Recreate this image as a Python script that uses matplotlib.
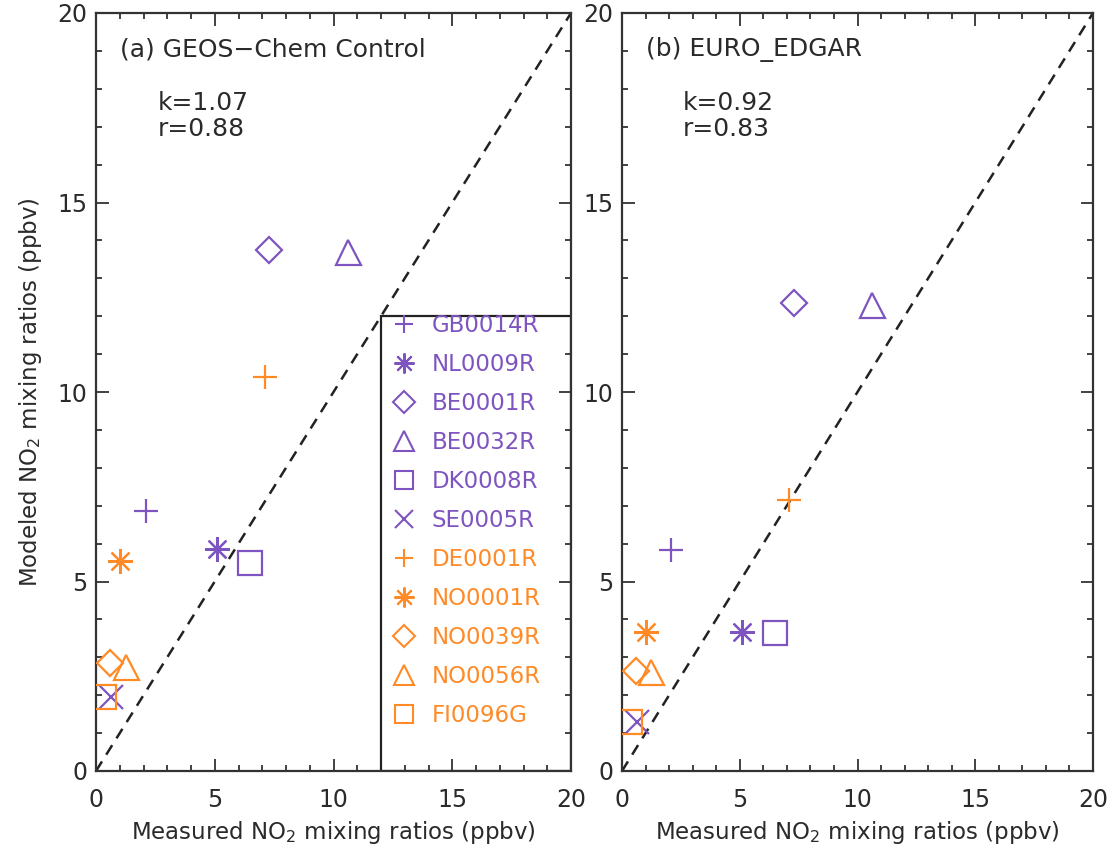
import matplotlib
matplotlib.use("Agg")
import matplotlib.pyplot as plt
from matplotlib.lines import Line2D
from matplotlib.patches import Rectangle
from matplotlib.ticker import MultipleLocator

# ---- data ----
sites = ['GB0014R', 'NL0009R', 'BE0001R', 'BE0032R', 'DK0008R', 'SE0005R',
         'DE0001R', 'NO0001R', 'NO0039R', 'NO0056R', 'FI0096G']
measured = [2.1, 5.1, 7.3, 10.6, 6.5, 0.65, 7.1, 1.0, 0.6, 1.25, 0.35]
model_control = [6.85, 5.85, 13.75, 13.7, 5.5, 1.95, 10.4, 5.55, 2.85, 2.75, 1.95]
model_euro = [5.83, 3.68, 12.35, 12.3, 3.65, 1.3, 7.15, 3.68, 2.65, 2.6, 1.3]
panel_titles = ['(a) GEOS\u2212Chem Control', '(b) EURO_EDGAR']
panel_stats = ['k=1.07\nr=0.88', 'k=0.92\nr=0.83']

PURPLE = '#7E55C0'
ORANGE = '#FF8A26'
colors = [PURPLE] * 6 + [ORANGE] * 5
ASTER = (8, 2, 0)
markers = ['+', ASTER, 'D', '^', 's', 'x', '+', ASTER, 'D', '^', 's']
msize = {'+': 17, 'D': 13.5, '^': 18, 's': 17, 'x': 17}

def ms_of(m):
    return 18 if isinstance(m, tuple) else msize[m]

plt.rcParams['font.family'] = ['DejaVu Sans']
fig = plt.figure(figsize=(11.12, 8.5), dpi=100)
W, H = 1112, 850
axa = fig.add_axes([96 / W, (850 - 771) / H, 475 / W, 758 / H])
axb = fig.add_axes([622 / W, (850 - 771) / H, 471 / W, 758 / H])

TXT = '#2a2a2a'
for ax, model, title, stats in zip([axa, axb], [model_control, model_euro],
                                   panel_titles, panel_stats):
    ax.set_xlim(0, 20)
    ax.set_ylim(0, 20)
    ax.plot([0, 20], [0, 20], ls=(0, (4.5, 3.2)), color='#222222', lw=1.8, zorder=1)
    for x, y, c, m in zip(measured, model, colors, markers):
        ax.plot([x], [y], ls='none', marker=m, ms=ms_of(m), mfc='none',
                mec=c, mew=1.6, zorder=3)
    ax.xaxis.set_major_locator(MultipleLocator(5))
    ax.yaxis.set_major_locator(MultipleLocator(5))
    ax.xaxis.set_minor_locator(MultipleLocator(1))
    ax.yaxis.set_minor_locator(MultipleLocator(1))
    ax.tick_params(which='both', direction='in', top=True, right=True,
                   colors='#333333', labelcolor=TXT, width=1.3)
    ax.tick_params(which='major', length=9, labelsize=17)
    ax.tick_params(which='minor', length=4.5)
    ax.tick_params(axis='x', pad=12)
    ax.tick_params(axis='y', pad=6)
    for s in ax.spines.values():
        s.set_linewidth(1.6)
        s.set_color('#333333')
    ax.text(1.0, 19.05, title, fontsize=18, color=TXT, va='center', ha='left')
    ax.text(2.6, 17.28, stats, fontsize=18, color=TXT, va='center', ha='left',
            linespacing=1.12)
    ax.set_xlabel('Measured NO$_2$ mixing ratios (ppbv)', fontsize=16.5, color=TXT,
                  labelpad=5)

axa.set_ylabel('Modeled NO$_2$ mixing ratios (ppbv)', fontsize=16.5, color=TXT,
               labelpad=10)

# legend box in panel (a)
axa.add_patch(Rectangle((12, 0), 8, 12, fill=False, ec='#222222', lw=1.6, zorder=2))
handles = [Line2D([], [], ls='none', marker=m, ms=ms_of(m) * 0.8, mfc='none',
                  mec=c, mew=1.5) for m, c in zip(markers, colors)]
leg = axa.legend(handles, sites, loc='upper left',
                 bbox_to_anchor=(12.0 / 20, 12.3 / 20), frameon=False,
                 fontsize=16.5, handlelength=1.2, handletextpad=0.6,
                 labelspacing=0.70, borderaxespad=0.0)
for t, c in zip(leg.get_texts(), colors):
    t.set_color(c)

fig.savefig('out.png', dpi=100)
